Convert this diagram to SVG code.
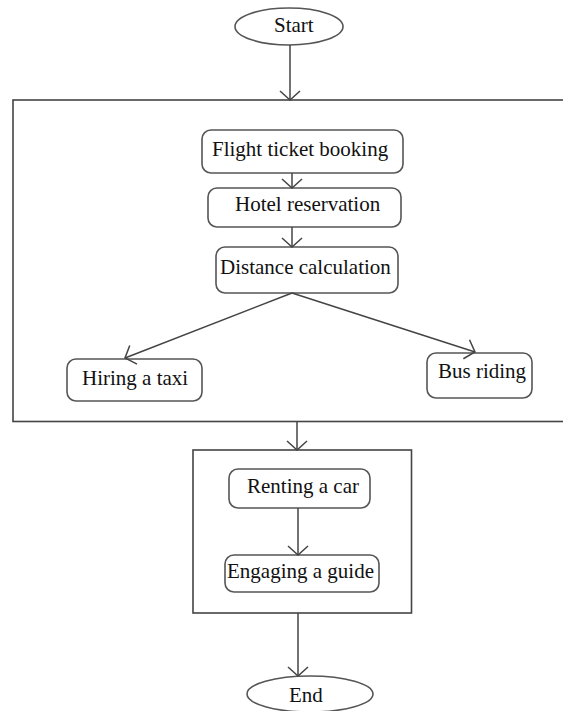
<svg xmlns="http://www.w3.org/2000/svg" width="563" height="711" viewBox="0 0 563 711">
<style>
.box{fill:#fff;stroke:#555;stroke-width:1.6}
.frame{fill:none;stroke:#444;stroke-width:1.6}
.t{font-family:"Liberation Serif","Times New Roman",serif;font-size:21px;fill:#111}
.c{fill:none;stroke:#444;stroke-width:1.5;marker-end:url(#arr)}
</style>
<defs>
<marker id="arr" markerUnits="userSpaceOnUse" markerWidth="12" markerHeight="22" refX="10" refY="11" orient="auto" viewBox="0 0 12 22">
<path d="M1,1 L10,11 L1,21" fill="none" stroke="#444" stroke-width="1.5"/>
</marker>
</defs>
<rect width="563" height="711" fill="#fff"/>
<g id="frame-main"><rect class="frame" x="13" y="100" width="580" height="321.5"/></g>
<g id="frame-inner"><rect class="frame" x="193" y="450" width="218.5" height="163"/></g>
<g id="start"><ellipse class="box" cx="289" cy="26.5" rx="54" ry="18.5"/><text class="t" x="274" y="32">Start</text></g>
<g id="flight"><rect class="box" x="202" y="130" width="201" height="43" rx="9"/><text class="t" x="212" y="156">Flight ticket booking</text></g>
<g id="hotel"><rect class="box" x="208" y="188" width="193" height="39" rx="9"/><text class="t" x="235" y="211">Hotel reservation</text></g>
<g id="distance"><rect class="box" x="216" y="247" width="182" height="46" rx="9"/><text class="t" x="220" y="274">Distance calculation</text></g>
<g id="taxi"><rect class="box" x="67" y="359" width="135" height="42" rx="9"/><text class="t" x="82" y="385">Hiring a taxi</text></g>
<g id="bus"><rect class="box" x="427" y="353" width="105" height="45" rx="9"/><text class="t" x="438" y="378">Bus riding</text></g>
<g id="car"><rect class="box" x="229" y="469" width="141" height="39" rx="9"/><text class="t" x="247" y="493">Renting a car</text></g>
<g id="guide"><rect class="box" x="225" y="555" width="154" height="37" rx="9"/><text class="t" x="227" y="578">Engaging a guide</text></g>
<g id="end"><ellipse class="box" cx="310" cy="694" rx="63" ry="18"/><text class="t" x="289" y="702">End</text></g>
<g id="connectors">
<line class="c" x1="290" y1="45" x2="290" y2="100"/>
<line class="c" x1="292" y1="173" x2="292" y2="188"/>
<line class="c" x1="292" y1="227" x2="292" y2="247"/>
<line class="c" x1="292" y1="293" x2="125" y2="358"/>
<line class="c" x1="292" y1="293" x2="475" y2="352"/>
<line class="c" x1="297" y1="421.5" x2="297" y2="450"/>
<line class="c" x1="298" y1="508" x2="298" y2="555"/>
<line class="c" x1="298" y1="613" x2="298" y2="676"/>
</g>
</svg>
